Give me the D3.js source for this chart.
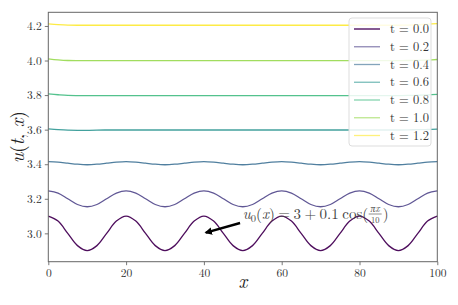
<!DOCTYPE html>
<html>
<head>
<meta charset="utf-8">
<script src="https://cdn.jsdelivr.net/npm/d3@7"></script>
<style>
  body { margin: 0; background: #fff; }
  svg { font-family: "Latin Modern Roman", "CMU Serif", "Liberation Serif", serif; }
</style>
</head>
<body>
<div class="chart"></div>
<script>
// x grid of the solution
const xs = [0, 2.5, 5, 7.5, 10, 12.5, 15, 17.5, 20, 22.5, 25, 27.5, 30, 32.5, 35, 37.5,
  40, 42.5, 45, 47.5, 50, 52.5, 55, 57.5, 60, 62.5, 65, 67.5, 70, 72.5, 75, 77.5,
  80, 82.5, 85, 87.5, 90, 92.5, 95, 97.5, 100];

const times = ["0.0", "0.2", "0.4", "0.6", "0.8", "1.0", "1.2"];

const uT00 = [3.1, 3.071, 3.0, 2.929, 2.9, 2.929, 3.0, 3.071,
  3.1, 3.071, 3.0, 2.929, 2.9, 2.929, 3.0, 3.071,
  3.1, 3.071, 3.0, 2.929, 2.9, 2.929, 3.0, 3.071,
  3.1, 3.071, 3.0, 2.929, 2.9, 2.929, 3.0, 3.071,
  3.1, 3.071, 3.0, 2.929, 2.9, 2.929, 3.0, 3.071,
  3.1];
const uT02 = [3.246, 3.233, 3.2, 3.167, 3.154, 3.167, 3.2, 3.233,
  3.246, 3.233, 3.2, 3.167, 3.154, 3.167, 3.2, 3.233,
  3.246, 3.233, 3.2, 3.167, 3.154, 3.167, 3.2, 3.233,
  3.246, 3.233, 3.2, 3.167, 3.154, 3.167, 3.2, 3.233,
  3.246, 3.233, 3.2, 3.167, 3.154, 3.167, 3.2, 3.233,
  3.246];
const uT04 = [3.415, 3.412, 3.406, 3.4, 3.397, 3.4, 3.406, 3.412,
  3.415, 3.412, 3.406, 3.4, 3.397, 3.4, 3.406, 3.412,
  3.415, 3.412, 3.406, 3.4, 3.397, 3.4, 3.406, 3.412,
  3.415, 3.412, 3.406, 3.4, 3.397, 3.4, 3.406, 3.412,
  3.415, 3.412, 3.406, 3.4, 3.397, 3.4, 3.406, 3.412,
  3.415];
const uT06 = [3.604, 3.6, 3.597, 3.596, 3.596, 3.597, 3.598,
  3.598, 3.598, 3.598, 3.598, 3.598, 3.598, 3.598, 3.598, 3.598, 3.598,
  3.598, 3.598, 3.598, 3.598, 3.598, 3.598, 3.598, 3.598, 3.598, 3.598,
  3.598, 3.598, 3.598, 3.598, 3.598, 3.598, 3.598, 3.598, 3.598, 3.598,
  3.599, 3.6, 3.601, 3.603];
const uT08 = [3.807, 3.802, 3.798, 3.797, 3.797, 3.797, 3.797,
  3.797, 3.797, 3.797, 3.797, 3.797, 3.797, 3.797, 3.797, 3.797, 3.797,
  3.797, 3.797, 3.797, 3.797, 3.797, 3.797, 3.797, 3.797, 3.797, 3.797,
  3.797, 3.797, 3.797, 3.797, 3.797, 3.797, 3.797, 3.797, 3.797, 3.797,
  3.798, 3.799, 3.801, 3.804];
const uT10 = [4.01, 4.004, 4.0, 3.999, 3.999, 3.999, 3.999,
  3.999, 3.999, 3.999, 3.999, 3.999, 3.999, 3.999, 3.999, 3.999, 3.999,
  3.999, 3.999, 3.999, 3.999, 3.999, 3.999, 3.999, 3.999, 3.999, 3.999,
  3.999, 3.999, 3.999, 3.999, 3.999, 3.999, 3.999, 3.999, 3.999, 3.999,
  4.0, 4.001, 4.003, 4.006];
const uT12 = [4.212, 4.208, 4.205, 4.204, 4.204, 4.204, 4.204,
  4.204, 4.204, 4.204, 4.204, 4.204, 4.204, 4.204, 4.204, 4.204, 4.204,
  4.204, 4.204, 4.204, 4.204, 4.204, 4.204, 4.204, 4.204, 4.204, 4.204,
  4.204, 4.204, 4.204, 4.204, 4.204, 4.204, 4.204, 4.204, 4.204, 4.204,
  4.205, 4.207, 4.21, 4.214];

const series = [uT00, uT02, uT04, uT06, uT08, uT10, uT12];

const xTicks = [0, 20, 40, 60, 80, 100];
const yTicks = [3.0, 3.2, 3.4, 3.6, 3.8, 4.0, 4.2];

const width = 458;
const height = 305;
const margin = { top: 12.3, right: 20.7, bottom: 43.3, left: 48.3 };

const svg = d3
  .select(".chart")
  .append("svg")
  .attr("width", width)
  .attr("height", height);

const x = d3.scaleLinear().domain([0, 100]).range([margin.left, width - margin.right]);
const y = d3.scaleLinear().domain([2.836, 4.279]).range([height - margin.bottom, margin.top]);

const color = (i) => d3.interpolateViridis(i / (times.length - 1));

// lines
const line = d3
  .line()
  .x((d) => x(d[0]))
  .y((d) => y(d[1]))
  .curve(d3.curveCatmullRom);

svg
  .append("g")
  .attr("fill", "none")
  .attr("stroke-width", 1.3)
  .selectAll()
  .data(series)
  .join("path")
  .attr("stroke", (d, i) => color(i))
  .attr("stroke-opacity", (d, i) => (i === 0 ? 0.95 : 0.85))
  .attr("d", (d) => line(d.map((v, j) => [xs[j], v])));

// axes
const xAxis = svg
  .append("g")
  .attr("transform", `translate(0,${height - margin.bottom})`)
  .call(d3.axisBottom(x).tickValues(xTicks).tickSize(3.5).tickPadding(4).tickFormat(d3.format("d")));
const yAxis = svg
  .append("g")
  .attr("transform", `translate(${margin.left},0)`)
  .call(d3.axisLeft(y).tickValues(yTicks).tickSize(3.5).tickPadding(3).tickFormat(d3.format(".1f")));

[xAxis, yAxis].forEach((g) => {
  g.select(".domain").remove();
  g.selectAll("line").attr("stroke", "#555").attr("stroke-width", 0.8);
  g.selectAll("text")
    .attr("fill", "#333")
    .style("font-size", "11.5px")
    .style("font-family", '"Latin Modern Roman", "CMU Serif", "Liberation Serif", serif');
});

// frame
svg
  .append("rect")
  .attr("x", x(0))
  .attr("y", y(4.279))
  .attr("width", x(100) - x(0))
  .attr("height", y(2.836) - y(4.279))
  .attr("fill", "none")
  .attr("stroke", "#666")
  .attr("stroke-width", 1);

// axis labels
svg
  .append("text")
  .attr("x", (x(0) + x(100)) / 2)
  .attr("y", 288)
  .attr("text-anchor", "middle")
  .attr("font-style", "italic")
  .attr("font-size", 19)
  .attr("fill", "#222")
  .text("x");

svg
  .append("text")
  .attr("transform", `translate(24,${(y(2.836) + y(4.279)) / 2}) rotate(-90)`)
  .attr("text-anchor", "middle")
  .attr("font-size", 19)
  .attr("fill", "#222")
  .call((t) => {
    t.append("tspan").attr("font-style", "italic").text("u");
    t.append("tspan").text("(");
    t.append("tspan").attr("font-style", "italic").text("t");
    t.append("tspan").text(", ");
    t.append("tspan").attr("font-style", "italic").text("x");
    t.append("tspan").text(")");
  });

// annotation: arrow to (40, 3.0) with the initial condition
const arrowTip = [40, 3.0];
const arrowTail = [49.3, 3.06];
const textAt = [50, 3.083];

svg
  .append("defs")
  .append("marker")
  .attr("id", "head")
  .attr("viewBox", "0 0 10 10")
  .attr("refX", 8)
  .attr("refY", 5)
  .attr("markerWidth", 3)
  .attr("markerHeight", 3)
  .attr("orient", "auto")
  .append("path")
  .attr("d", "M0,0L10,5L0,10z")
  .attr("fill", "#000");

svg
  .append("line")
  .attr("x1", x(arrowTail[0]))
  .attr("y1", y(arrowTail[1]))
  .attr("x2", x(arrowTip[0]) + 2)
  .attr("y2", y(arrowTip[1]) - 0.7)
  .attr("stroke", "#000")
  .attr("stroke-width", 2.5)
  .attr("marker-end", "url(#head)");

const ann = svg.append("g").attr("fill", "#444");
const baseY = y(textAt[1]);
const main = ann
  .append("text")
  .attr("x", x(textAt[0]))
  .attr("y", baseY)
  .attr("font-size", 15)
  .attr("word-spacing", "-1.5px");
main.append("tspan").attr("font-style", "italic").text("u");
main.append("tspan").attr("font-size", 10.5).attr("dy", 3).text("0");
main.append("tspan").attr("dy", -3).text("(");
main.append("tspan").attr("font-style", "italic").text("x");
main.append("tspan").text(") = 3 + 0.1 cos(");

const mainEnd = x(textAt[0]) + main.node().getComputedTextLength();
const fracX = mainEnd + 7;
ann
  .append("text")
  .attr("x", fracX)
  .attr("y", baseY - 7.5)
  .attr("text-anchor", "middle")
  .attr("font-size", 9.5)
  .attr("font-style", "italic")
  .text("πx");
ann
  .append("line")
  .attr("x1", fracX - 6.5)
  .attr("x2", fracX + 6.5)
  .attr("y1", baseY - 5)
  .attr("y2", baseY - 5)
  .attr("stroke", "#444")
  .attr("stroke-width", 0.6);
ann
  .append("text")
  .attr("x", fracX)
  .attr("y", baseY + 4)
  .attr("text-anchor", "middle")
  .attr("font-size", 8.5)
  .text("10");
ann
  .append("text")
  .attr("x", fracX + 7.5)
  .attr("y", baseY)
  .attr("font-size", 15)
  .text(")");

// legend
const legend = svg.append("g").attr("transform", "translate(349,18)");
legend
  .append("rect")
  .attr("width", 82)
  .attr("height", 128)
  .attr("rx", 3)
  .attr("fill", "#fff")
  .attr("fill-opacity", 0.85)
  .attr("stroke", "#ddd");

const item = legend
  .selectAll("g")
  .data(times)
  .join("g")
  .attr("transform", (d, i) => `translate(0,${11 + i * 17.75})`);
item
  .append("line")
  .attr("x1", 5)
  .attr("x2", 31)
  .attr("stroke", (d, i) => color(i))
  .attr("stroke-opacity", (d, i) => (i === 0 ? 1 : 0.6))
  .attr("stroke-width", 1.3);
item
  .append("text")
  .attr("x", 41)
  .attr("y", 4.2)
  .attr("font-size", 12.5)
  .attr("fill", "#333")
  .text((d) => `t = ${d}`);
</script>
</body>
</html>
